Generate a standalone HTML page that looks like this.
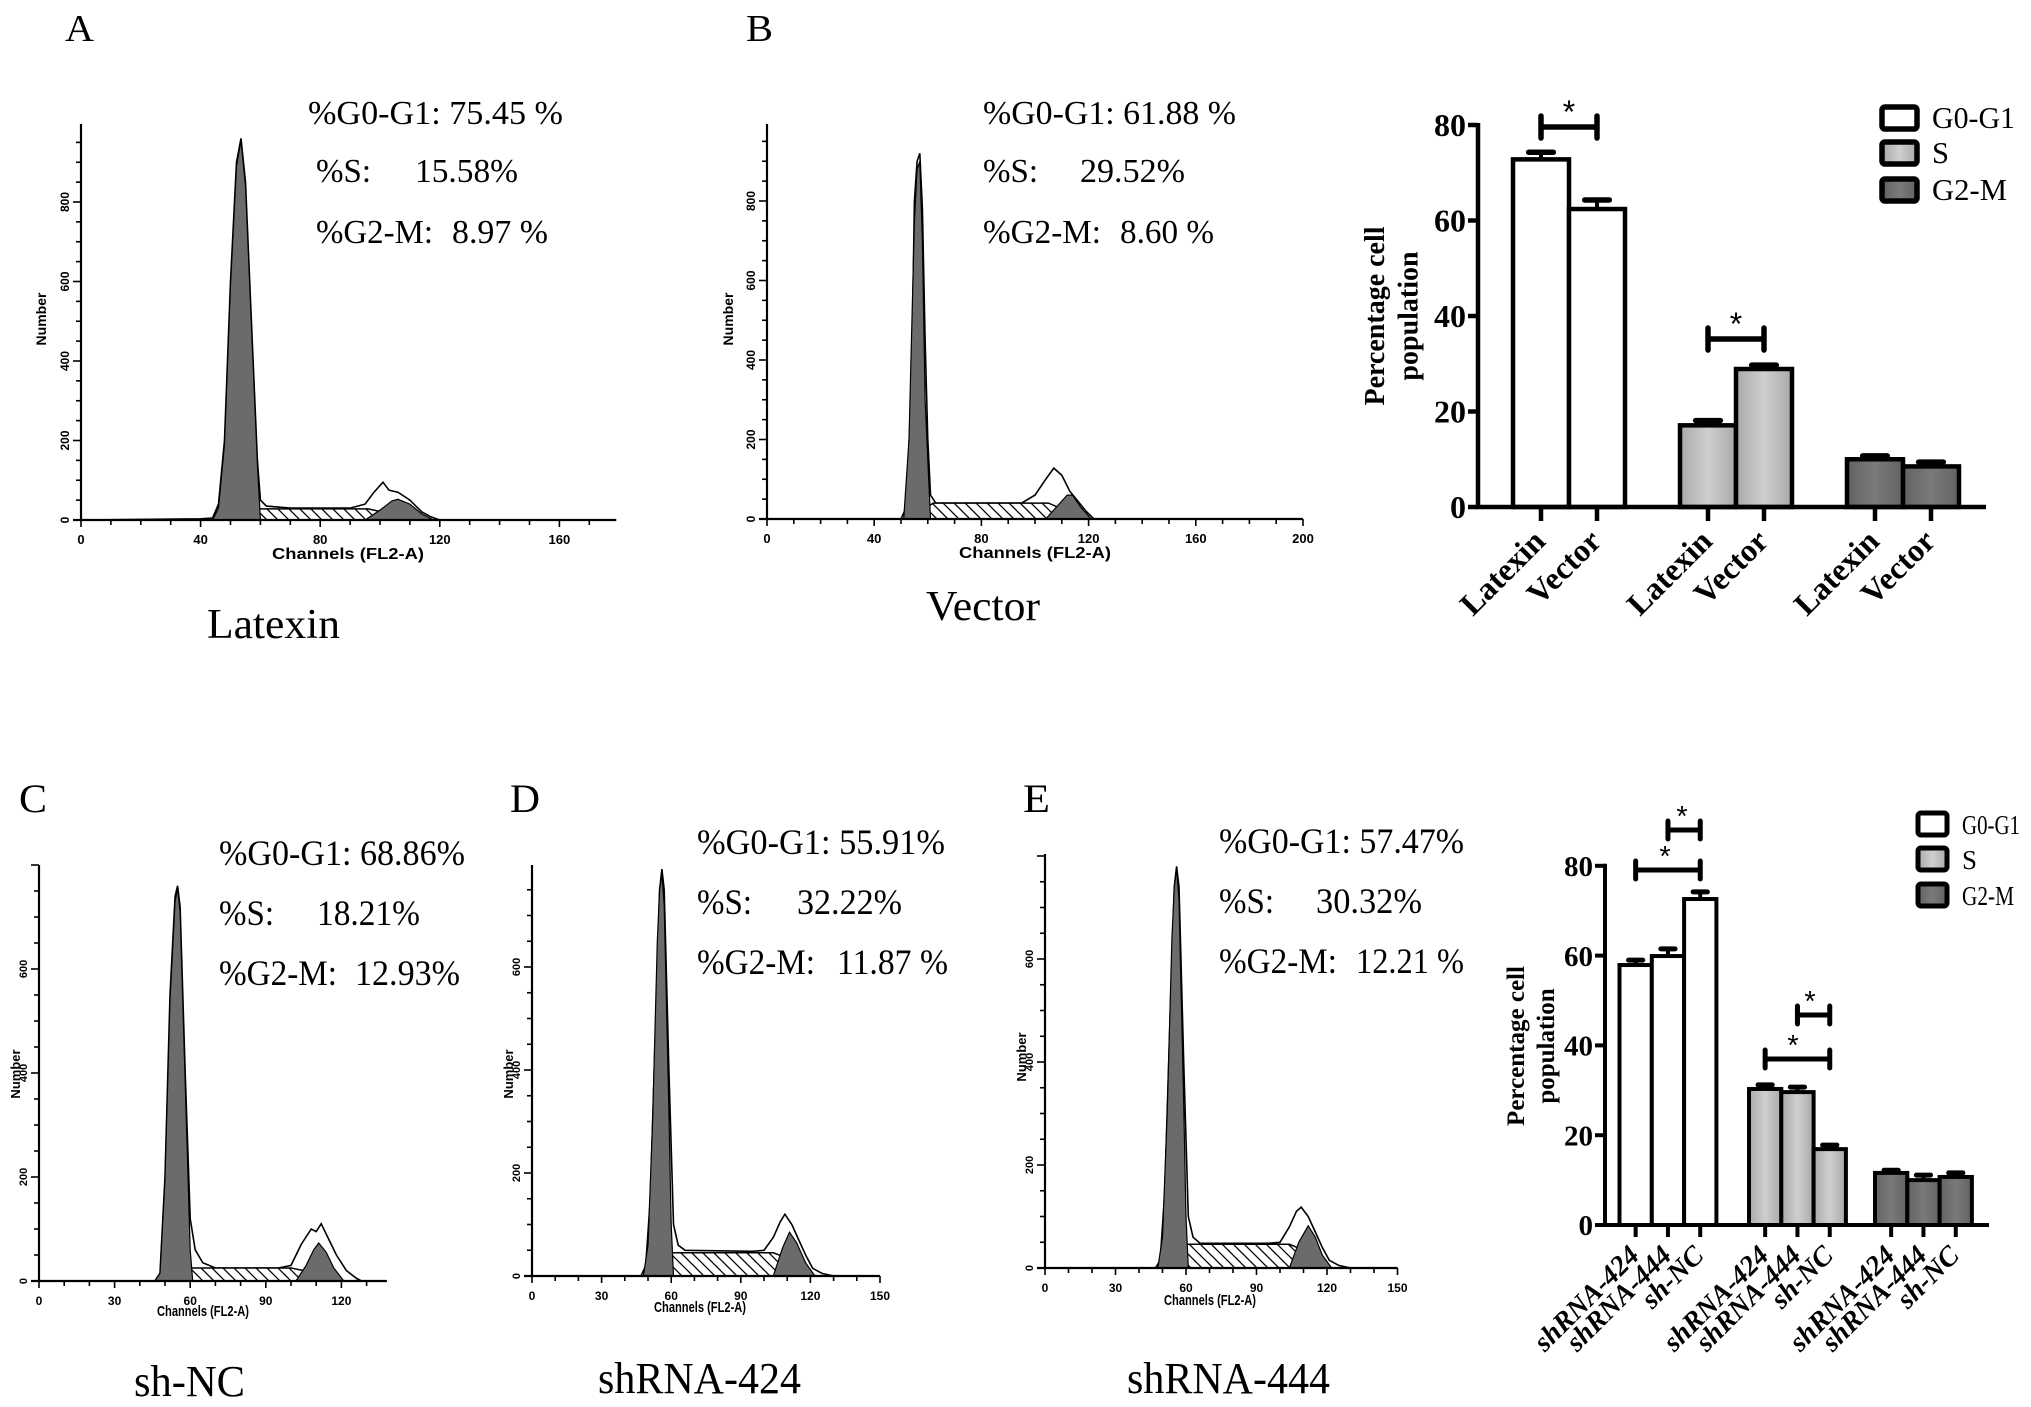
<!DOCTYPE html>
<html><head><meta charset="utf-8"><style>
html,body{margin:0;padding:0;background:#fff}
svg{display:block}
</style></head><body>
<svg id="fig" xmlns="http://www.w3.org/2000/svg" width="2031" height="1407" viewBox="0 0 2031 1407">
<defs>
<pattern id="hatch" patternUnits="userSpaceOnUse" width="11" height="11"><rect width="11" height="11" fill="#fff"/><path d="M-2,-2 L13,13 M-2,9 L2,13 M9,-2 L13,2" stroke="#000" stroke-width="1.3"/></pattern>
<linearGradient id="gS" x1="0" x2="1" y1="0" y2="0"><stop offset="0" stop-color="#a9a9a9"/><stop offset="0.5" stop-color="#cfcfcf"/><stop offset="1" stop-color="#a9a9a9"/></linearGradient>
<linearGradient id="gM" x1="0" x2="1" y1="0" y2="0"><stop offset="0" stop-color="#626262"/><stop offset="0.5" stop-color="#7a7a7a"/><stop offset="1" stop-color="#626262"/></linearGradient>
</defs>
</svg>
<script>
// ===== Histogram data (channel, count) =====
const aTotCh=[0,40,44,46,48,50,52,53.5,55,57,59,60,62,70,90,95,98,101,103,106,110,114,117,120,179];
const aTotN=[0,3,5,40,200,600,900,960,850,500,150,50,35,30,30,40,70,95,75,70,50,20,8,0,0];
const aG1Ch=[44,46,48,50,52,53.5,55,57,59,60];
const aG1N=[0,30,190,590,890,955,840,490,140,0];
const aSCh=[52,58,96,104,113];
const aSN=[0,28,28,15,0];
const aG2Ch=[95,100,104,106,110,114,118];
const aG2N=[0,25,48,52,40,15,0];

const bTotCh=[0,50,52,54,55,56,57,58,59,60,61,63,70,95,100,104,107,110,113,116,119,122,200];
const bTotN=[0,0,30,350,800,900,920,780,450,200,60,40,40,40,60,100,128,110,70,45,20,0,0];
const bG1Ch=[51,53,55,56,57,58,59,61];
const bG1N=[0,200,750,880,900,700,300,0];
const bSCh=[53,62,105,112,118];
const bSN=[0,40,40,20,0];
const bG2Ch=[104,108,112,114,117,121];
const bG2N=[0,30,60,60,30,0];

const cTotCh=[0,46,48,50,52,54,55,56,58,60,62,65,70,95,100,104,108,110,112,115,118,122,126,128,138];
const cTotN=[0,0,15,200,550,740,760,720,400,120,60,35,25,25,30,70,100,95,110,80,50,20,5,0,0];
const cG1Ch=[46,48,50,52,54,55,56,58,60,61];
const cG1N=[0,15,195,540,730,755,710,380,60,0];
const cSCh=[50,60,100,105,118];
const cSN=[0,25,25,20,0];
const cG2Ch=[102,106,109,111,114,117,121];
const cG2N=[0,30,60,73,55,25,0];

const dTotCh=[0,47,49,51,53,55,56,57,59,61,63,66,95,100,104,107,109,112,115,118,121,125,130,150];
const dTotN=[0,0,20,150,450,750,790,750,400,100,60,50,48,50,75,105,120,100,70,40,15,5,0,0];
const dG1Ch=[48,50,52,54,55,56,57,59,60,61];
const dG1N=[0,60,300,650,750,780,720,320,100,0];
const dSCh=[50,60,104,110,120];
const dSN=[0,45,45,35,0];
const dG2Ch=[104,108,111,114,118,122];
const dG2N=[0,55,85,65,25,0];

const eTotCh=[0,47,49,51,53,55,56,57,59,61,63,66,95,100,104,107,109,112,115,118,121,125,130,150];
const eTotN=[0,0,15,150,450,740,780,740,400,100,60,48,48,50,80,110,118,100,70,40,15,5,0,0];
const eG1Ch=[48,50,52,54,55,56,57,59,60,61];
const eG1N=[0,60,300,640,740,775,715,320,100,0];
const eSCh=[50,60,104,110,120];
const eSN=[0,46,46,35,0];
const eG2Ch=[104,108,112,115,118,122];
const eG2N=[0,50,82,60,25,0];

const histXTicksAB=[0,40,80,120,160];
const histXTicksB=[0,40,80,120,160,200];
const histXTicksCDE=[0,30,60,90,120];
const histXTicksDE=[0,30,60,90,120,150];
const histYTicksAB=[0,200,400,600,800];
const histYTicksCDE=[0,200,400,600];

// ===== Bar chart data =====
const phases=['G0-G1','S','G2-M'];
const topCats=['Latexin','Vector'];
const topG0=[72.8,62.4];
const topG0Err=[1.5,1.9];
const topS=[17.1,28.9];
const topSErr=[1.0,0.8];
const topM=[10.0,8.5];
const topMErr=[0.7,0.9];
const botCats=['shRNA-424','shRNA-444','sh-NC'];
const botG0=[57.9,59.9,72.6];
const botG0Err=[1.1,1.6,1.6];
const botS=[30.3,29.6,16.9];
const botSErr=[0.9,1.1,0.9];
const botM=[11.6,10.0,10.7];
const botMErr=[0.6,1.1,0.9];
const barYTicks=[0,20,40,60,80];

const NS='http://www.w3.org/2000/svg';
const svg=document.getElementById('fig');
function mk(tag,attrs,parent){const e=document.createElementNS(NS,tag);for(const k in attrs)e.setAttribute(k,attrs[k]);(parent||svg).appendChild(e);return e;}
function txt(s,attrs,parent){const e=mk('text',attrs,parent);e.textContent=s;return e;}
const SERIF='"Liberation Serif", serif';
const SANS='"Liberation Sans", sans-serif';

function histogram(cfg,tot,totN,g1,g1N,sC,sN,g2,g2N){
  const g=mk('g',{});
  
  
  const X=c=>cfg.x0+c*cfg.pxc, Y=n=>cfg.base-n*cfg.pxn;
  const poly=(ch,n)=>ch.map((c,i)=>X(c).toFixed(1)+','+Y(n[i]).toFixed(1)).join(' ');
  const t=mk('polygon',{points:poly(tot,totN),fill:'#fff',stroke:'#000','stroke-width':1.6},g);
  
  
  const s=mk('polygon',{points:poly(sC,sN),fill:'url(#hatch)',stroke:'#000','stroke-width':1.5},g);
  
  
  const a=mk('polygon',{points:poly(g1,g1N),fill:'#6b6b6b',stroke:'#000','stroke-width':1.2},g);
  
  
  const b=mk('polygon',{points:poly(g2,g2N),fill:'#6b6b6b',stroke:'#000','stroke-width':1.2},g);
  
  
  mk('line',{x1:cfg.x0,y1:cfg.top,x2:cfg.x0,y2:cfg.base,stroke:'#000','stroke-width':2.2},g);
  mk('line',{x1:cfg.x0-8,y1:cfg.base,x2:cfg.x0+cfg.maxCh*cfg.pxc,y2:cfg.base,stroke:'#000','stroke-width':2.2},g);
  for(let n=0;n*cfg.pxn<=cfg.base-cfg.top;n+=50){mk('line',{x1:cfg.x0-(n%200===0?8:5),y1:Y(n),x2:cfg.x0,y2:Y(n),stroke:'#000','stroke-width':1.6},g);}
  for(let c=0;c<=cfg.maxCh;c+=10){mk('line',{x1:X(c),y1:cfg.base,x2:X(c),y2:cfg.base+(cfg.xt.includes(c)?7:5),stroke:'#000','stroke-width':1.6},g);}
  cfg.xt.forEach(c=>{const l=txt(String(c),{x:X(c),y:cfg.base+24,'font-family':SANS,'font-weight':'bold','font-size':cfg.fs,'text-anchor':'middle'},g);});
  cfg.yt.forEach(n=>{const l=txt(String(n),{x:0,y:0,transform:`translate(${cfg.x0-12},${Y(n)}) rotate(-90)`,'font-family':SANS,'font-weight':'bold','font-size':cfg.fs-1,'text-anchor':'middle'},g);});
  const xl=txt('Channels (FL2-A)',{x:cfg.xlx,y:cfg.xly,'font-family':SANS,'font-weight':'bold','font-size':cfg.fs+3,'text-anchor':'middle',textLength:cfg.xlw,lengthAdjust:'spacingAndGlyphs'},g);
  
  
  const yl=txt('Number',{x:0,y:0,transform:`translate(${cfg.ylx},${cfg.yly}) rotate(-90)`,'font-family':SANS,'font-weight':'bold','font-size':cfg.fs+1,'text-anchor':'middle'},g);
  
  
}

histogram({name:'histogram-a',x0:81,pxc:2.99,base:520,pxn:0.3975,top:124,maxCh:179,xt:histXTicksAB,yt:histYTicksAB,fs:13,xlx:348,xly:559,xlw:152,ylx:46,yly:319},aTotCh,aTotN,aG1Ch,aG1N,aSCh,aSN,aG2Ch,aG2N);
histogram({name:'histogram-b',x0:767,pxc:2.68,base:519,pxn:0.3975,top:124,maxCh:200,xt:histXTicksB,yt:histYTicksAB,fs:13,xlx:1035,xly:558,xlw:152,ylx:733,yly:319},bTotCh,bTotN,bG1Ch,bG1N,bSCh,bSN,bG2Ch,bG2N);
histogram({name:'histogram-c',x0:39,pxc:2.52,base:1281,pxn:0.52,top:865,maxCh:138,xt:histXTicksCDE,yt:histYTicksCDE,fs:12,xlx:203,xly:1316,xlw:92,ylx:20,yly:1074},cTotCh,cTotN,cG1Ch,cG1N,cSCh,cSN,cG2Ch,cG2N);
histogram({name:'histogram-d',x0:532,pxc:2.32,base:1276,pxn:0.515,top:865,maxCh:150,xt:histXTicksDE,yt:histYTicksCDE,fs:12,xlx:700,xly:1312,xlw:92,ylx:513,yly:1074},dTotCh,dTotN,dG1Ch,dG1N,dSCh,dSN,dG2Ch,dG2N);
histogram({name:'histogram-e',x0:1045,pxc:2.35,base:1268,pxn:0.515,top:854,maxCh:150,xt:histXTicksDE,yt:histYTicksCDE,fs:12,xlx:1210,xly:1305,xlw:92,ylx:1026,yly:1057},eTotCh,eTotN,eG1Ch,eG1N,eSCh,eSN,eG2Ch,eG2N);

function stat(name,s,x,y,w,fs){const t=txt(s,{x:x,y:y,'font-family':SERIF,'font-size':fs,textLength:w,lengthAdjust:'spacingAndGlyphs'});}
stat('stat-g0g1-a','%G0-G1: 75.45 %',308,124,255,34);
stat('stat-s-label-a','%S:',316,182,55,34);stat('stat-s-a','15.58%',415,182,103,34);
stat('stat-g2m-label-a','%G2-M:',316,243,117,34);stat('stat-g2m-a','8.97 %',452,243,96,34);
stat('stat-g0g1-b','%G0-G1: 61.88 %',983,124,253,34);
stat('stat-s-label-b','%S:',983,182,55,34);stat('stat-s-b','29.52%',1080,182,105,34);
stat('stat-g2m-label-b','%G2-M:',983,243,118,34);stat('stat-g2m-b','8.60 %',1120,243,94,34);
stat('stat-g0g1-c','%G0-G1: 68.86%',219,865,246,36);
stat('stat-s-label-c','%S:',219,925,55,36);stat('stat-s-c','18.21%',317,925,103,36);
stat('stat-g2m-label-c','%G2-M:',219,985,118,36);stat('stat-g2m-c','12.93%',355,985,105,36);
stat('stat-g0g1-d','%G0-G1: 55.91%',697,854,248,36);
stat('stat-s-label-d','%S:',697,914,55,36);stat('stat-s-d','32.22%',797,914,105,36);
stat('stat-g2m-label-d','%G2-M:',697,974,118,36);stat('stat-g2m-d','11.87 %',837,974,111,36);
stat('stat-g0g1-e','%G0-G1: 57.47%',1219,853,245,36);
stat('stat-s-label-e','%S:',1219,913,55,36);stat('stat-s-e','30.32%',1316,913,106,36);
stat('stat-g2m-label-e','%G2-M:',1219,973,118,36);stat('stat-g2m-e','12.21 %',1356,973,108,36);

function lab(name,s,x,y,w,fs){const t=txt(s,{x:x,y:y,'font-family':SERIF,'font-size':fs,textLength:w,lengthAdjust:'spacingAndGlyphs'});}
lab('panel-label-a','A',65,41,29,38);lab('panel-label-b','B',746,41,27,38);
lab('panel-label-c','C',19,812,28,40);lab('panel-label-d','D',510,812,30,40);lab('panel-label-e','E',1023,812,27,40);
lab('sample-label-latexin','Latexin',207,638,133,42);
lab('sample-label-vector','Vector',926,620,114,42);
lab('sample-label-sh-nc','sh-NC',134,1396,111,44);
lab('sample-label-shrna-424','shRNA-424',598,1393,203,44);
lab('sample-label-shrna-444','shRNA-444',1127,1393,203,44);

function barChart(cfg,cats,vals,errs,sigs){
  const g=mk('g',{});
  
  
  const Y=v=>cfg.base-v*cfg.ppu;
  const fills=['#fff','url(#gS)','url(#gM)'];
  const centers=[];
  vals.forEach((arr,p)=>{
    arr.forEach((v,i)=>{
      const x=cfg.groupX[p]+i*cfg.bw, cx=x+cfg.bw/2;
      centers.push(cx);
      const el=mk('line',{x1:cx,y1:Y(v),x2:cx,y2:Y(v+errs[p][i]),stroke:'#000','stroke-width':4},g);
      
      
      const cap=mk('line',{x1:cx-cfg.bw*0.22,y1:Y(v+errs[p][i]),x2:cx+cfg.bw*0.22,y2:Y(v+errs[p][i]),stroke:'#000','stroke-width':cfg.sw+1,'stroke-linecap':'round'},g);
      
      
      const r=mk('rect',{x:x,y:Y(v),width:cfg.bw,height:v*cfg.ppu,fill:fills[p],stroke:'#000','stroke-width':cfg.sw},g);
      
      
      mk('line',{x1:cx,y1:cfg.base,x2:cx,y2:cfg.base+cfg.tl,stroke:'#000','stroke-width':cfg.sw},g);
      const l=txt(cats[i],{x:0,y:0,transform:`translate(${cx+cfg.lx},${cfg.base+cfg.ly}) rotate(-45)`,'font-family':SERIF,'font-weight':'bold','font-style':cfg.italic?'italic':'normal','font-size':cfg.lfs,'text-anchor':'end'},g);
      
      
    });
  });
  mk('line',{x1:cfg.ax,y1:Y(80)-2,x2:cfg.ax,y2:cfg.base+2,stroke:'#000','stroke-width':cfg.sw},g);
  mk('line',{x1:cfg.ax-2,y1:cfg.base,x2:cfg.xend,y2:cfg.base,stroke:'#000','stroke-width':cfg.sw},g);
  barYTicks.forEach(t=>{
    mk('line',{x1:cfg.ax-10,y1:Y(t),x2:cfg.ax,y2:Y(t),stroke:'#000','stroke-width':cfg.sw},g);
    const l=txt(String(t),{x:cfg.ax-12,y:Y(t)+cfg.tfs*0.35,'font-family':SERIF,'font-weight':'bold','font-size':cfg.tfs,'text-anchor':'end'},g);
    
    
  });
  const yt=mk('text',{x:0,y:0,transform:`translate(${cfg.ytx},${cfg.yty}) rotate(-90)`,'font-family':SERIF,'font-weight':'bold','font-size':cfg.yfs,'text-anchor':'middle'},g);
  
  
  const t1=mk('tspan',{x:0,dy:0},yt);t1.textContent='Percentage cell';
  const t2=mk('tspan',{x:0,dy:cfg.yfs*1.2},yt);t2.textContent='population';
  sigs.forEach(s=>{
    const x1=centers[s[0]],x2=centers[s[1]],y=s[2];
    const b=mk('path',{d:`M${x1},${y-cfg.bh} L${x1},${y+cfg.bh} M${x1},${y} L${x2},${y} M${x2},${y-cfg.bh} L${x2},${y+cfg.bh}`,stroke:'#000','stroke-width':cfg.sw+1,fill:'none','stroke-linecap':'round'},g);
    
    
    const st=txt('*',{x:s[3],y:y-4,'font-family':SANS,'font-size':cfg.tfs,'text-anchor':'middle'},g);
    
    
  });
  phases.forEach((p,i)=>{
    const ly=cfg.legY[i];
    const r=mk('rect',{x:cfg.legX,y:ly,width:cfg.legW,height:cfg.legH,rx:3,fill:fills[i],stroke:'#000','stroke-width':cfg.sw+1},g);
    
    
    const l=txt(p,{x:cfg.legX+cfg.legW+15,y:ly+cfg.legH-1,'font-family':SERIF,'font-size':cfg.legFs,textLength:cfg.legTL[i],lengthAdjust:'spacingAndGlyphs'},g);
    
    
  });
}

barChart({name:'bar-chart-top',ax:1478,base:507,ppu:4.775,bw:56,groupX:[1513,1680,1847],xend:1986,sw:4.5,tl:14,lx:6,ly:36,lfs:32,italic:false,tfs:32,yfs:28,ytx:1384,yty:316,bh:11,legX:1882,legY:[107,142,179],legW:35,legH:22,legFs:31,legTL:[83,17,75]},
  topCats,[topG0,topS,topM],[topG0Err,topSErr,topMErr],[[0,1,127,1569],[2,3,339,1736]]);
barChart({name:'bar-chart-bottom',ax:1605,base:1225,ppu:4.49,bw:32.3,groupX:[1619.5,1749,1875],xend:1989,sw:4,tl:12,lx:5,ly:32,lfs:28,italic:true,tfs:29,yfs:25,ytx:1524,yty:1046,bh:9,legX:1918,legY:[813,848,884],legW:29,legH:22,legFs:27,legTL:[58,15,52]},
  botCats,[botG0,botS,botM],[botG0Err,botSErr,botMErr],[[0,2,870,1665],[1,2,830,1682],[3,5,1059,1793],[4,5,1015,1810]]);
</script>
</body></html>
